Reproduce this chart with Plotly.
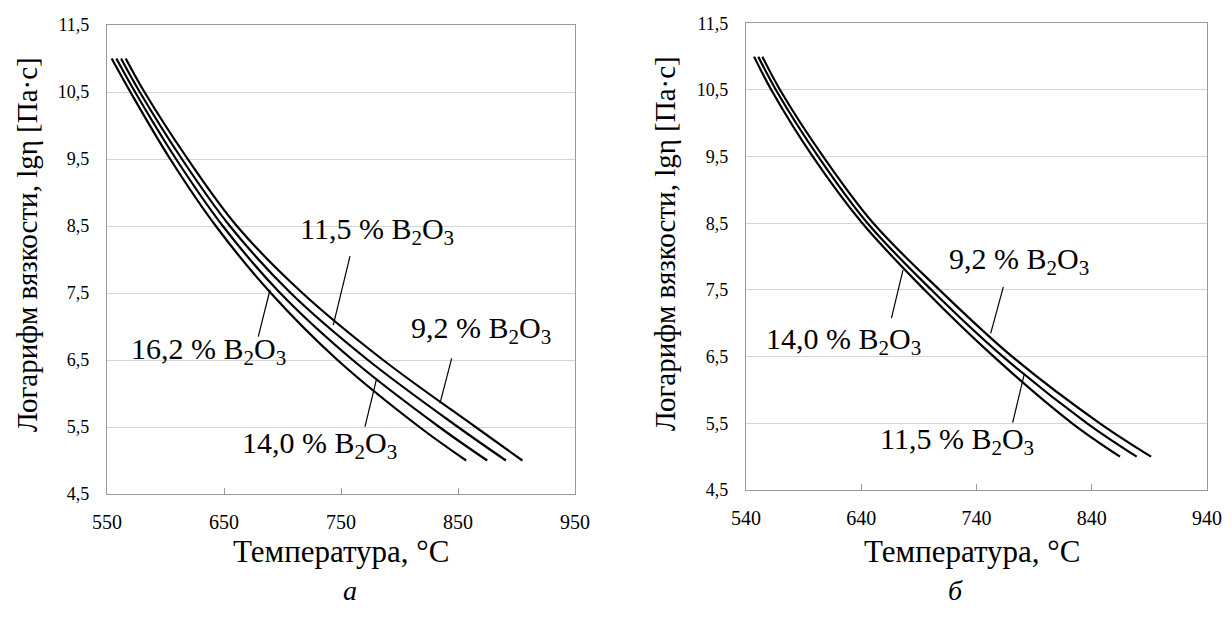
import plotly.graph_objects as go

# ---------------- data ----------------
lg_levels = [11.0, 10.5, 9.5, 8.5, 7.5, 6.5, 5.5, 5.0]

# panel a
a_T_162 = [554, 570, 604, 643, 690, 747, 817, 857]
a_T_140 = [558, 574, 609, 649, 698, 760, 834, 875]
a_T_115 = [562, 578, 614, 655, 707, 773, 850, 891]
a_T_092 = [566, 582, 619, 661, 717, 786, 865, 905]

# panel b
b_T_140 = [547, 562, 598, 641, 695, 755, 823, 864.5]
b_T_115 = [550.7, 566, 602.7, 645.5, 701, 763, 836, 879]
b_T_092 = [554.2, 569.6, 607, 650.5, 708, 771, 847, 891.5]

a_xticks = [550, 650, 750, 850, 950]
b_xticks = [540, 640, 740, 840, 940]
yticks = [4.5, 5.5, 6.5, 7.5, 8.5, 9.5, 10.5, 11.5]
ytick_text = ["4,5", "5,5", "6,5", "7,5", "8,5", "9,5", "10,5", "11,5"]

x_title = "Температура, °C"
y_title = "Логарифм вязкости, lgη [Па·с]"

# label text, text position (T, lg), leader start, leader end
a_labels = [
    ("11,5 % B<sub>2</sub>O<sub>3</sub>", (781, 8.42), (757.7, 8.05), (743.4, 7.02)),
    ("16,2 % B<sub>2</sub>O<sub>3</sub>", (637, 6.63), (679.3, 6.85), (689.3, 7.545)),
    ("9,2 % B<sub>2</sub>O<sub>3</sub>", (869.5, 6.95), (844.6, 6.525), (834.6, 5.854)),
    ("14,0 % B<sub>2</sub>O<sub>3</sub>", (731.4, 5.23), (770.5, 5.504), (780.5, 6.227)),
]
b_labels = [
    ("9,2 % B<sub>2</sub>O<sub>3</sub>", (777, 7.94), (763.3, 7.548), (752.3, 6.849)),
    ("14,0 % B<sub>2</sub>O<sub>3</sub>", (624.5, 6.73), (666.2, 7.079), (676.2, 7.798)),
    ("11,5 % B<sub>2</sub>O<sub>3</sub>", (723.5, 5.23), (771.4, 5.509), (781.2, 6.224)),
]

FONT = "Liberation Serif, 'Times New Roman', 'DejaVu Serif', serif"
line_style = dict(color="black", width=2.2)

fig = go.Figure()
for T in (a_T_162, a_T_140, a_T_115, a_T_092):
    fig.add_trace(go.Scatter(x=T, y=lg_levels, mode="lines", line=dict(line_style, shape="spline", smoothing=1.0),
                             xaxis="x", yaxis="y", showlegend=False, hoverinfo="skip"))
for T in (b_T_140, b_T_115, b_T_092):
    fig.add_trace(go.Scatter(x=T, y=lg_levels, mode="lines", line=dict(line_style, shape="spline", smoothing=1.0),
                             xaxis="x2", yaxis="y2", showlegend=False, hoverinfo="skip"))

# the page body adds an 8px margin, so the figure is offset by 8px
OFF = 8
W, H = 1232 - OFF, 626 - OFF
def dom_x(l, r):
    return [(l - OFF) / W, (r - OFF) / W]
def dom_y(b, t):
    return [1 - (b - OFF) / H, 1 - (t - OFF) / H]

axis_common = dict(showline=True, linecolor="#9a9a9a", linewidth=1.3, mirror=True, zeroline=False,
                   automargin=False)
xcommon = dict(axis_common, ticks="inside", ticklen=6, tickcolor="#9a9a9a", showgrid=False,
               tickfont=dict(family=FONT, size=20, color="black"), ticklabelstandoff=10)
ycommon = dict(axis_common, range=[4.5, 11.5], tickvals=yticks, ticktext=ytick_text, ticks="",
               showgrid=True, gridcolor="#d4d4d4", gridwidth=1.3,
               tickfont=dict(family=FONT, size=18, color="black"), ticklabelstandoff=13)

fig.update_layout(
    width=W, height=H, margin=dict(l=0, r=0, t=0, b=0, autoexpand=False),
    paper_bgcolor="white", plot_bgcolor="white",
    xaxis=dict(xcommon, domain=dom_x(107, 575), range=[550, 950], tickvals=a_xticks, anchor="y"),
    yaxis=dict(ycommon, domain=dom_y(494, 25), anchor="x"),
    xaxis2=dict(xcommon, domain=dom_x(746, 1207), range=[540, 940], tickvals=b_xticks, anchor="y2"),
    yaxis2=dict(ycommon, domain=dom_y(490, 23.3), anchor="x2"),
)

shapes = []
annotations = []
for labels, xr, yr in ((a_labels, "x", "y"), (b_labels, "x2", "y2")):
    for text, (tx, ty), (x0, y0), (x1, y1) in labels:
        annotations.append(dict(text=text, x=tx, y=ty, xref=xr, yref=yr, showarrow=False,
                                xanchor="center", yanchor="middle",
                                font=dict(family=FONT, size=30, color="black")))
        shapes.append(dict(type="line", x0=x0, y0=y0, x1=x1, y1=y1, xref=xr, yref=yr,
                           line=dict(color="black", width=1.2)))

def paper_text(text, px, py, size, angle=0):
    annotations.append(dict(text=text, x=(px - OFF) / W, y=1 - (py - OFF) / H, xref="paper", yref="paper",
                            xanchor="center", yanchor="middle", textangle=angle, showarrow=False,
                            font=dict(family=FONT, size=size, color="black")))

paper_text(x_title, 341, 551, 31)
paper_text(x_title, 972, 551, 31)
paper_text(y_title, 27, 245, 29, -90)
paper_text(y_title, 665, 244, 29, -90)
paper_text("<i>а</i>", 350, 590, 28)
paper_text("<i>б</i>", 955, 590, 28)

fig.update_layout(shapes=shapes, annotations=annotations)
fig.write_html("out.html")
